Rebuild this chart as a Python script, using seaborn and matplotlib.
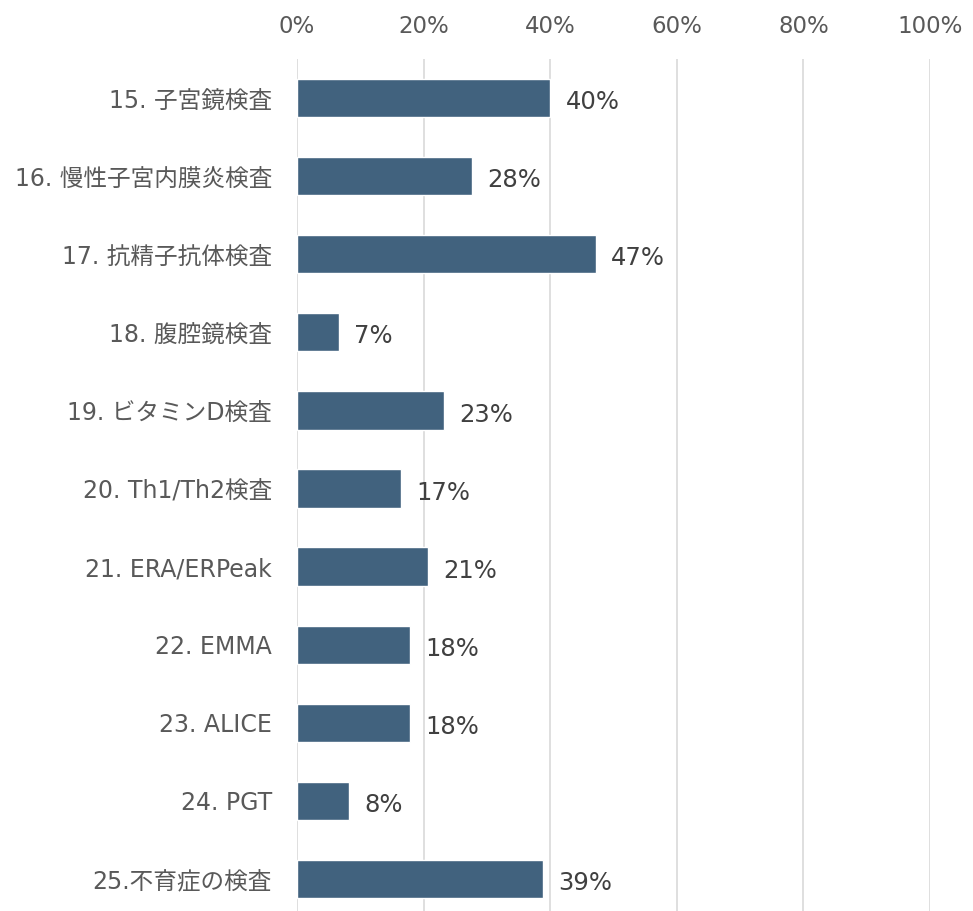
import pandas as pd
import seaborn as sns
import matplotlib.pyplot as plt
from matplotlib.ticker import PercentFormatter

categories = [
    "15. 子宮鏡検査",
    "16. 慢性子宮内膜炎検査",
    "17. 抗精子抗体検査",
    "18. 腹腔鏡検査",
    "19. ビタミンD検査",
    "20. Th1/Th2検査",
    "21. ERA/ERPeak",
    "22. EMMA",
    "23. ALICE",
    "24. PGT",
    "25.不育症の検査",
]
values = [0.40, 0.276, 0.472, 0.066, 0.232, 0.165, 0.207, 0.179, 0.179, 0.082, 0.388]
labels = ["40%", "28%", "47%", "7%", "23%", "17%", "21%", "18%", "18%", "8%", "39%"]

data = pd.DataFrame({"item": categories, "share": values})

sns.set_theme(style="white")
plt.rcParams["font.family"] = ["DejaVu Sans", "Noto Sans CJK JP"]

text_color = "#595959"
fig = plt.figure(figsize=(9.73, 9.11), dpi=100)
ax = fig.add_axes([297 / 973, -7 / 911, 633 / 973, 859 / 911])

sns.barplot(data=data, x="share", y="item", orient="h", color="#41627E",
            saturation=1, width=0.49, ax=ax)

ax.set_xlim(0, 1)
ax.set_xticks([0, 0.2, 0.4, 0.6, 0.8, 1.0])
ax.xaxis.set_major_formatter(PercentFormatter(1.0, decimals=0))
ax.xaxis.tick_top()
ax.grid(axis="x", color="#D9D9D9", linewidth=1.2)
ax.set_axisbelow(True)
for s in ax.spines.values():
    s.set_visible(False)
ax.tick_params(axis="x", length=0, pad=15, labelsize=16.5, labelcolor=text_color)
ax.tick_params(axis="y", length=0, pad=18, labelsize=17, labelcolor=text_color)
ax.set_xlabel("")
ax.set_ylabel("")

# labels sit a little below the bar centre in the original (offset in points)
texts = ax.bar_label(ax.containers[0], labels=labels, padding=11, fontsize=17.5,
                     color="#404040")
for t in texts:
    t.set_verticalalignment("center")
    t.set_y(-3)

fig.savefig("out.png", dpi=100)
